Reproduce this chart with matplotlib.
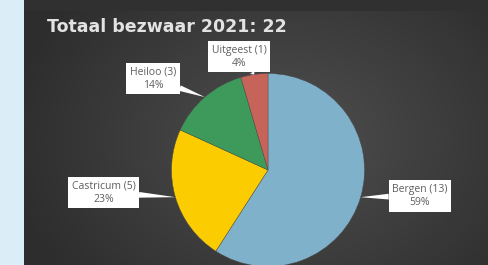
import numpy as np
import matplotlib.pyplot as plt

# data
gemeenten = ['Bergen', 'Castricum', 'Heiloo', 'Uitgeest']
bezwaren = [13, 5, 3, 1]
percentages = [59, 23, 14, 4]
kleuren = ['#80b1cb', '#fbcd00', '#3e9a5b', '#c6645a']
titel = 'Totaal bezwaar 2021: 22'

W, H = 488, 265
fig = plt.figure(figsize=(W / 100, H / 100), dpi=100)
ax = fig.add_axes([0, 0, 1, 1])

# background: light blue strip on the left, dark radial gradient panel
yy, xx = np.mgrid[0:H, 0:W]
d = np.sqrt(((xx - 290) / 300.0) ** 2 + ((yy - 140) / 230.0) ** 2)
g = np.clip(0.31 - 0.14 * d, 0.18, 0.31)
img = np.dstack([g, g, g])
img[:11, :, :] = 0.19
img[:, :24, :] = [0.86, 0.93, 0.97]
ax.imshow(img, extent=[0, W, 0, H], origin='upper', zorder=0)

cx, cy, r = 268, H - 170, 96.5
wedges, _ = ax.pie(bezwaren, colors=kleuren, startangle=90, counterclock=False,
                   center=(cx, cy), radius=r, frame=True,
                   wedgeprops=dict(edgecolor='#4a4a4a', linewidth=0.3))
for w in wedges:
    w.set_zorder(2)
ax.set_xlim(0, W)
ax.set_ylim(0, H)
ax.set_aspect('equal')
ax.axis('off')

# label box centres (pixels, y down)
box_pos = [(420, 196), (103.5, 192.5), (153, 78.5), (239, 56.5)]
for w, naam, n, p, (bx, by) in zip(wedges, gemeenten, bezwaren, percentages, box_pos):
    mid = np.deg2rad((w.theta1 + w.theta2) / 2)
    tip = (cx + r * np.cos(mid), cy + r * np.sin(mid))
    ax.annotate(f'{naam} ({n})\n{p}%', xy=tip, xytext=(bx, H - by),
                ha='center', va='center', fontsize=7.5, color='#5f5f5f',
                family='Open Sans', linespacing=1.25, zorder=5,
                bbox=dict(boxstyle='square,pad=0.35', fc='white', ec='none'),
                arrowprops=dict(arrowstyle='wedge,tail_width=0.55', fc='white',
                                ec='none', shrinkA=0, shrinkB=0))

ax.text(47, H - 27.5, titel, fontsize=12.5, fontweight='bold', color='#e2e2e2',
        family='DejaVu Sans', ha='left', va='center', zorder=5)

fig.savefig('out.png', dpi=100)
